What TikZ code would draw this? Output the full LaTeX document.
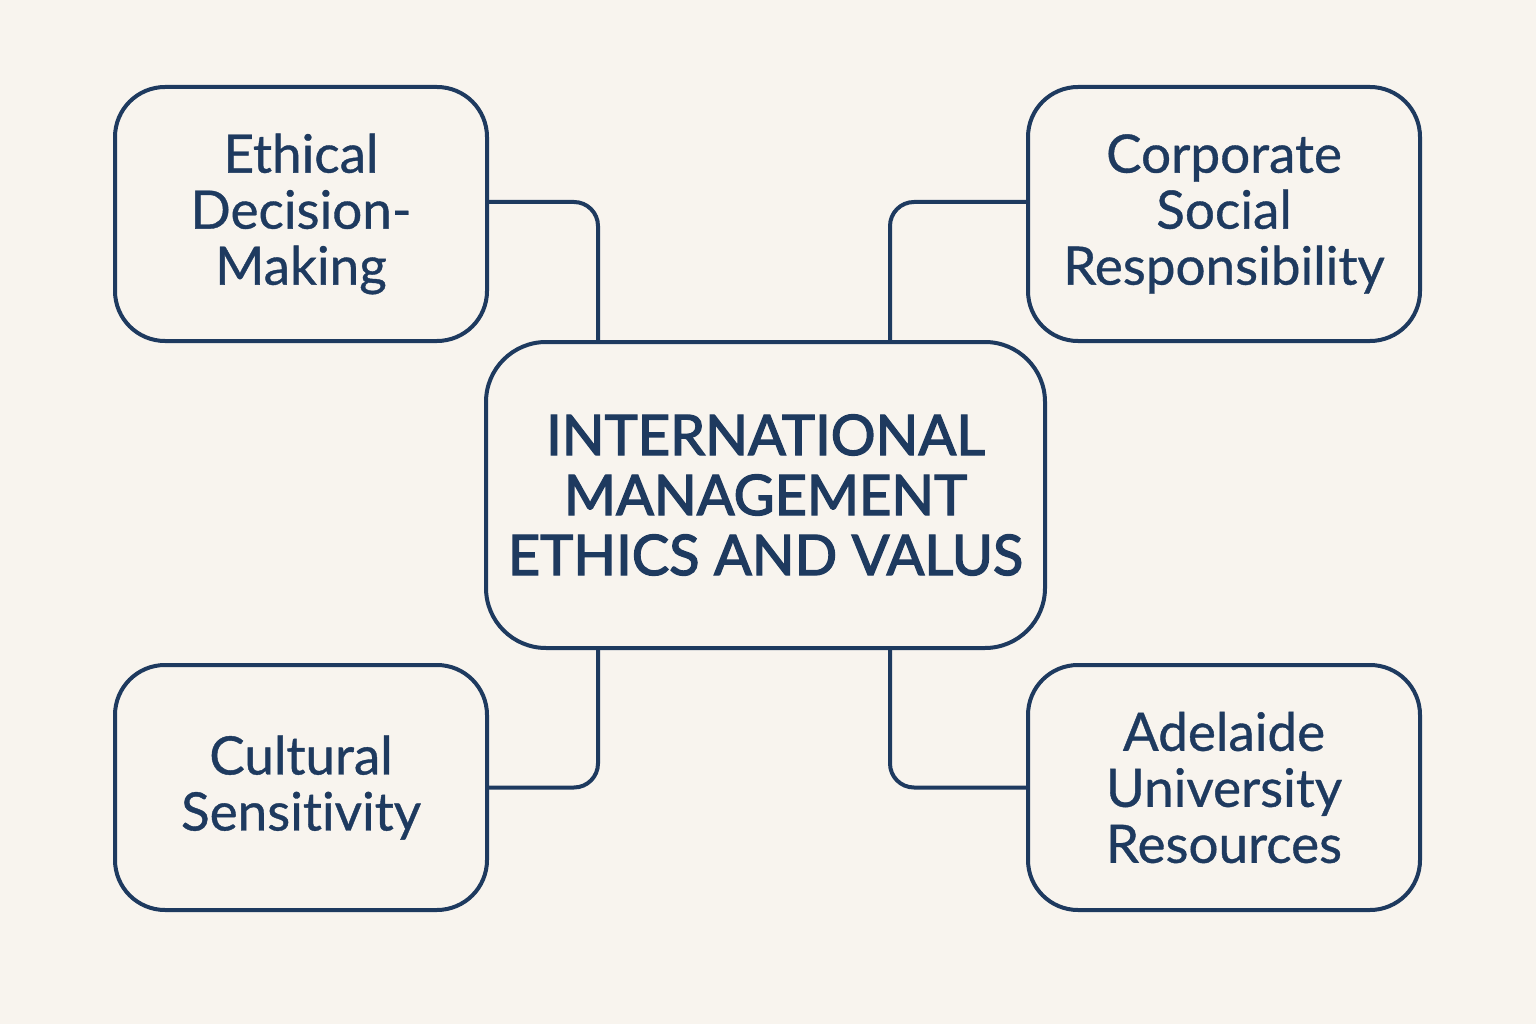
\documentclass[tikz,border=0pt]{standalone}
\usepackage{fontspec}
\setmainfont{Lato}[FakeBold=0.7,Ligatures={NoCommon,NoRare}]
\newfontfamily\mainbold{Lato}[FakeBold=2.4,Ligatures={NoCommon,NoRare}]
\definecolor{navy}{HTML}{1E3A5F}
\definecolor{bg}{HTML}{F8F4EE}
\begin{document}
\begin{tikzpicture}[x=1pt,y=-1pt,
  box/.style={draw=navy,line width=4pt,rounded corners=50pt,text=navy,align=center,inner sep=0pt},
  side/.style={box,font=\fontsize{53}{56}\selectfont},
  main/.style={box,rounded corners=60pt,font=\mainbold\fontsize{56}{60}\selectfont},
  conn/.style={draw=navy,line width=4pt,rounded corners=24pt}]
\fill[bg] (0,0) rectangle (1536,1024);
\useasboundingbox (0,0) rectangle (1536,1024);
\node[main,minimum width=559pt,minimum height=306pt] (c) at (765.5,495) {INTERNATIONAL\\MANAGEMENT\\ETHICS AND VALUS};
\node[side,minimum width=372pt,minimum height=254pt] (tl) at (301,214) {Ethical\\Decision-\\Making};
\node[side,minimum width=392pt,minimum height=254pt] (tr) at (1224,214) {Corporate\\Social\\Responsibility};
\node[side,minimum width=372pt,minimum height=245pt] (bl) at (301,787.5) {Cultural\\Sensitivity};
\node[side,minimum width=392pt,minimum height=245pt] (br) at (1224,787.5) {Adelaide\\University\\Resources};
\draw[conn] ([yshift=12pt]tl.east) -| ([xshift=-167.5pt]c.north);
\draw[conn] ([yshift=12pt]tr.west) -| ([xshift=124.5pt]c.north);
\draw[conn] ([xshift=-167.5pt]c.south) |- (bl.east);
\draw[conn] ([xshift=124.5pt]c.south) |- (br.west);
\end{tikzpicture}
\end{document}
